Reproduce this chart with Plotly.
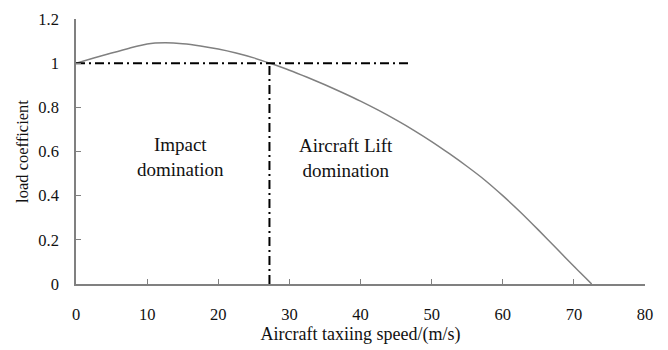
import plotly.graph_objects as go

speed = [0, 2.5, 5, 7.5, 10, 12.5, 15, 17.5, 20, 22.5, 25, 27.5, 30, 32.5, 35, 37.5, 40,
         42.5, 45, 47.5, 50, 52.5, 55, 57.5, 60, 62.5, 65, 67.5, 70, 72.5]
load = [1.0, 1.023, 1.046, 1.068, 1.087, 1.092, 1.088, 1.078, 1.064, 1.046, 1.024, 0.997,
        0.968, 0.936, 0.902, 0.866, 0.828, 0.787, 0.743, 0.696, 0.645, 0.59, 0.532, 0.47,
        0.40, 0.325, 0.245, 0.163, 0.08, 0.0]

h_line_x = [0, 47]
h_line_y = [1, 1]
v_line_x = [27.2, 27.2]
v_line_y = [0, 1]

x_ticks = [0, 10, 20, 30, 40, 50, 60, 70, 80]
y_ticks = [0, 0.2, 0.4, 0.6, 0.8, 1, 1.2]
y_tick_text = ["0", "0.2", "0.4", "0.6", "0.8", "1", "1.2"]

labels = ["Impact<br>domination", "Aircraft Lift<br>domination"]
label_x = [14.7, 37.9]
label_y = [0.575, 0.57]

font_family = "Liberation Serif, Times New Roman, serif"
dash = "9px,4px,2px,4px"

fig = go.Figure()
fig.add_trace(go.Scatter(x=speed, y=load, mode="lines",
                         line=dict(color="#808080", width=1.5, shape="spline", smoothing=0.6),
                         showlegend=False))
fig.add_trace(go.Scatter(x=h_line_x, y=h_line_y, mode="lines",
                         line=dict(color="black", width=2, dash=dash), showlegend=False))
fig.add_trace(go.Scatter(x=v_line_x, y=v_line_y, mode="lines",
                         line=dict(color="black", width=2, dash=dash), showlegend=False))

for t, x, y in zip(labels, label_x, label_y):
    fig.add_annotation(x=x, y=y, text=t, showarrow=False,
                       font=dict(family=font_family, size=19, color="#111"))

fig.update_layout(
    width=668, height=350,
    margin=dict(l=76, r=23, t=10, b=60),
    paper_bgcolor="white", plot_bgcolor="white",
    font=dict(family=font_family, color="#111"),
)
fig.update_xaxes(range=[0, 80], tickvals=x_ticks, showgrid=False, zeroline=False,
                 showline=True, linecolor="#808080", linewidth=1.5,
                 ticks="inside", ticklen=5, tickcolor="#808080",
                 tickfont=dict(size=16.5), ticklabelstandoff=14,
                 title=dict(text="Aircraft taxiing speed/(m/s)", font=dict(size=18), standoff=4))
fig.update_yaxes(range=[0, 1.2], tickvals=y_ticks, ticktext=y_tick_text, showgrid=False,
                 zeroline=False, showline=True, linecolor="#808080", linewidth=1.5,
                 ticks="inside", ticklen=5, tickcolor="#808080",
                 tickfont=dict(size=16.5), ticklabelstandoff=12,
                 title=dict(text="load coefficient", font=dict(size=16.5), standoff=6))

fig.write_html("out.html")
